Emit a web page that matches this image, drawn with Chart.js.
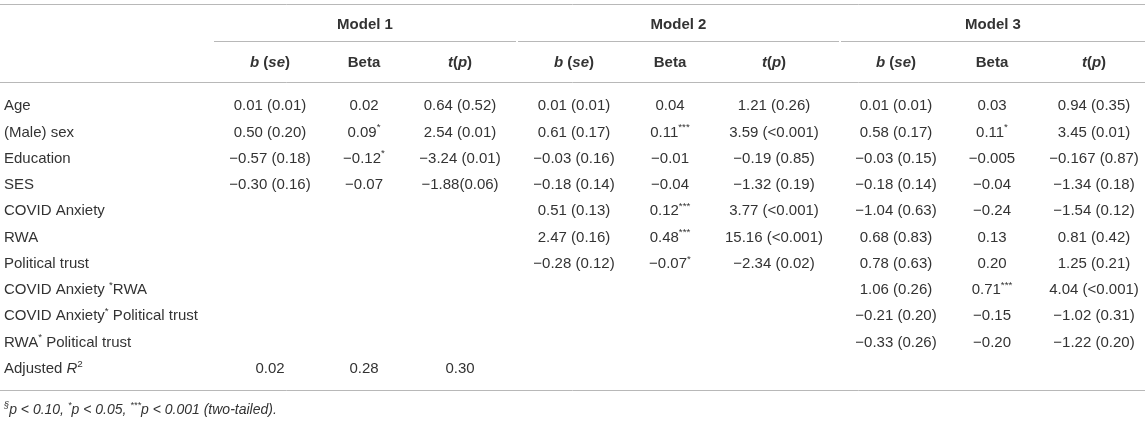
<!DOCTYPE html>
<html>
<head>
<meta charset="utf-8">
<script src="https://cdn.jsdelivr.net/npm/chart.js@4.4.0/dist/chart.umd.min.js"></script>
<style>
html, body { margin: 0; padding: 0; background: #fff; overflow: hidden; }
#table { display: block; }
</style>
</head>
<body>
<canvas id="table" width="1145" height="421"></canvas>
<script>
// rows of the table, top to bottom (_x_ = italic, ^x = superscript)
const rowLabels = ['Age', '(Male) sex', 'Education', 'SES', 'COVID Anxiety', 'RWA', 'Political trust',
	'COVID Anxiety *RWA', 'COVID Anxiety* Political trust', 'RWA* Political trust', 'Adjusted _R_^2'];

const models = ['Model 1', 'Model 2', 'Model 3'];
const subHeads = ['_b_ (_se_)', 'Beta', '_t_(_p_)'];

const model1B = ['0.01 (0.01)', '0.50 (0.20)', '−0.57 (0.18)', '−0.30 (0.16)'];
const model1Beta = ['0.02', '0.09*', '−0.12*', '−0.07'];
const model1T = ['0.64 (0.52)', '2.54 (0.01)', '−3.24 (0.01)', '−1.88(0.06)'];

const model2B = ['0.01 (0.01)', '0.61 (0.17)', '−0.03 (0.16)', '−0.18 (0.14)', '0.51 (0.13)', '2.47 (0.16)', '−0.28 (0.12)'];
const model2Beta = ['0.04', '0.11***', '−0.01', '−0.04', '0.12***', '0.48***', '−0.07*'];
const model2T = ['1.21 (0.26)', '3.59 (<0.001)', '−0.19 (0.85)', '−1.32 (0.19)', '3.77 (<0.001)', '15.16 (<0.001)', '−2.34 (0.02)'];

const model3B = ['0.01 (0.01)', '0.58 (0.17)', '−0.03 (0.15)', '−0.18 (0.14)', '−1.04 (0.63)', '0.68 (0.83)',
	'0.78 (0.63)', '1.06 (0.26)', '−0.21 (0.20)', '−0.33 (0.26)'];
const model3Beta = ['0.03', '0.11*', '−0.005', '−0.04', '−0.24', '0.13', '0.20', '0.71***', '−0.15', '−0.20'];
const model3T = ['0.94 (0.35)', '3.45 (0.01)', '−0.167 (0.87)', '−1.34 (0.18)', '−1.54 (0.12)', '0.81 (0.42)',
	'1.25 (0.21)', '4.04 (<0.001)', '−1.02 (0.31)', '−1.22 (0.20)'];

// printed on the last row, under the Model 1 columns
const adjustedR2 = ['0.02', '0.28', '0.30'];

const footnote = '^§p < 0.10, *p < 0.05, ***p < 0.001 (two-tailed).';

// layout
const colX = [270, 364, 460, 574, 670, 774, 896, 992, 1094];
const groupSpan = [[214, 516], [518, 839], [841, 1145]];
const textColor = '#333';
const ruleColor = '#b8b8b8';
const fontFamily = '"Liberation Sans", Arial, sans-serif';
const yShift = 1;

const columns = [model1B, model1Beta, model1T, model2B, model2Beta, model2T, model3B, model3Beta, model3T];

const datasets = [];
datasets.push({
	label: 'rows',
	align: 'left',
	data: rowLabels.map((r) => ({ x: 4, y: r, text: r })),
});
columns.forEach((col, c) => {
	const pts = col.map((v, r) => ({ x: colX[c], y: rowLabels[r], text: v }));
	if (c < 3) {
		pts.push({ x: colX[c], y: rowLabels[rowLabels.length - 1], text: adjustedR2[c] });
	}
	datasets.push({ label: 'col' + c, align: 'center', data: pts });
});

// split a string into runs: _ toggles italic, ^ marks one superscript char, stars are superscript
function toParts(str) {
	const parts = [];
	let italic = false;
	let buf = '';
	let i = 0;
	const flush = (sup) => {
		if (buf) parts.push({ t: buf, italic: italic, sup: !!sup });
		buf = '';
	};
	while (i < str.length) {
		const ch = str[i];
		if (ch === '_') {
			flush();
			italic = !italic;
			i++;
		} else if (ch === '^') {
			flush();
			buf = str[i + 1];
			flush(true);
			i += 2;
		} else if (ch === '*') {
			flush();
			while (str[i] === '*') {
				buf += '*';
				i++;
			}
			flush(true);
		} else {
			buf += ch;
			i++;
		}
	}
	flush();
	return parts;
}

function drawRich(ctx, str, x, y, align, size, bold, italicBase) {
	const parts = toParts(str);
	const font = (p) =>
		(italicBase !== p.italic ? 'italic ' : '') + (bold ? 'bold ' : '') +
		(p.sup ? size * 0.66 : size) + 'px ' + fontFamily;
	let w = 0;
	parts.forEach((p) => {
		ctx.font = font(p);
		p.w = ctx.measureText(p.t).width;
		w += p.w;
	});
	let cx = align === 'left' ? x : x - w / 2;
	y += yShift;
	parts.forEach((p) => {
		ctx.font = font(p);
		ctx.fillText(p.t, cx, p.sup ? y - size * 0.33 : y);
		cx += p.w;
	});
}

function rule(ctx, x1, x2, y) {
	ctx.beginPath();
	ctx.moveTo(x1, y + 0.5);
	ctx.lineTo(x2, y + 0.5);
	ctx.stroke();
}

const tablePlugin = {
	id: 'tableText',
	afterDraw(chart) {
		const ctx = chart.ctx;
		ctx.save();
		ctx.fillStyle = textColor;
		ctx.textAlign = 'left';
		ctx.textBaseline = 'middle';

		// cells, placed by the scales
		chart.data.datasets.forEach((ds, i) => {
			const meta = chart.getDatasetMeta(i);
			meta.data.forEach((el, j) => {
				drawRich(ctx, ds.data[j].text, el.x, el.y, ds.align, 15, false, false);
			});
		});

		// headers
		const xs = chart.scales.x;
		models.forEach((m, g) => {
			const mid = (xs.getPixelForValue(groupSpan[g][0]) + xs.getPixelForValue(groupSpan[g][1])) / 2;
			drawRich(ctx, m, mid, 24, 'center', 15, true, false);
			subHeads.forEach((s, k) => {
				drawRich(ctx, s, xs.getPixelForValue(colX[g * 3 + k]), 62, 'center', 15, true, false);
			});
		});

		drawRich(ctx, footnote, 4, 409, 'left', 14, false, true);

		ctx.strokeStyle = ruleColor;
		ctx.lineWidth = 1;
		rule(ctx, 0, chart.width, 4);
		groupSpan.forEach((s) => rule(ctx, xs.getPixelForValue(s[0]), xs.getPixelForValue(s[1]), 41));
		rule(ctx, 0, chart.width, 82);
		rule(ctx, 0, chart.width, 390);
		ctx.restore();
	},
};

new Chart(document.getElementById('table'), {
	type: 'scatter',
	data: { datasets: datasets },
	options: {
		responsive: false,
		animation: false,
		events: [],
		layout: { padding: { top: 92, bottom: 40, left: 0, right: 0 } },
		scales: {
			x: { type: 'linear', min: 0, max: 1145, display: false },
			y: { type: 'category', labels: rowLabels, offset: true, display: false },
		},
		elements: { point: { radius: 0, hoverRadius: 0 } },
		plugins: {
			legend: { display: false },
			tooltip: { enabled: false },
		},
	},
	plugins: [tablePlugin],
});
</script>
</body>
</html>
